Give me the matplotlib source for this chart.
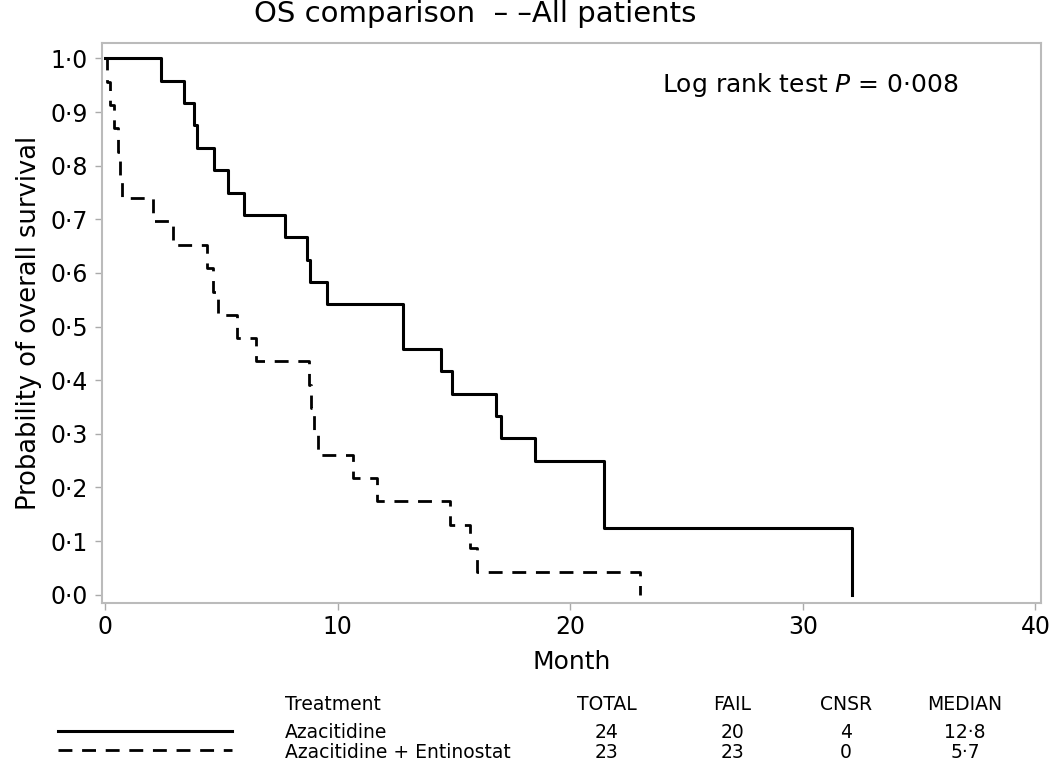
import matplotlib
matplotlib.use('Agg')
import matplotlib.pyplot as plt

plt.rcParams['font.family'] = ['DejaVu Sans']

# Kaplan-Meier steps (month, survival after the drop)
aza_t = [0, 2.4, 3.4, 3.83, 3.96, 4.68, 5.28, 5.98, 7.74, 8.68, 8.82, 9.55, 12.82,
         14.45, 14.94, 16.83, 17.03, 18.48, 21.45, 32.1]
aza_s = [1.0, 0.958, 0.917, 0.875, 0.833, 0.792, 0.75, 0.708, 0.667, 0.625, 0.583,
         0.542, 0.458, 0.417, 0.375, 0.333, 0.292, 0.25, 0.125, 0.0]

ent_t = [0, 0.1, 0.2, 0.4, 0.55, 0.65, 0.75, 2.06, 2.92, 4.38, 4.63, 4.86, 5.68,
         6.48, 8.78, 8.88, 9.0, 9.18, 10.68, 11.68, 14.84, 15.68, 15.98, 23.0]
ent_s = [1.0, 0.957, 0.913, 0.870, 0.826, 0.783, 0.739, 0.696, 0.652, 0.609, 0.565,
         0.522, 0.478, 0.435, 0.391, 0.348, 0.304, 0.261, 0.217, 0.174, 0.130,
         0.087, 0.043, 0.0]

y_ticks = [0.0, 0.1, 0.2, 0.3, 0.4, 0.5, 0.6, 0.7, 0.8, 0.9, 1.0]
y_labels = ['0·0', '0·1', '0·2', '0·3', '0·4', '0·5', '0·6', '0·7', '0·8', '0·9', '1·0']
x_ticks = [0, 10, 20, 30, 40]

table_head = ['Treatment', 'TOTAL', 'FAIL', 'CNSR', 'MEDIAN']
table_rows = [['Azacitidine', '24', '20', '4', '12·8'],
              ['Azacitidine + Entinostat', '23', '23', '0', '5·7']]

dash = (0, (5, 3.5))

fig = plt.figure(figsize=(10.5, 7.62), dpi=100)
ax = fig.add_axes([0.097, 0.209, 0.894, 0.734])

ax.step(aza_t, aza_s, where='post', color='black', lw=2.2)
ax.step(ent_t, ent_s, where='post', color='black', lw=2.0, linestyle=dash)

ax.set_xlim(-0.13, 40.22)
ax.set_ylim(-0.015, 1.028)
ax.set_xticks(x_ticks)
ax.set_yticks(y_ticks)
ax.set_yticklabels(y_labels)
ax.tick_params(labelsize=17, color='#aaaaaa', length=5, width=1)
ax.tick_params(axis='y', pad=5)
for sp in ax.spines.values():
    sp.set_color('#bbbbbb')
    sp.set_linewidth(1.5)

ax.set_xlabel('Month', fontsize=18, labelpad=8)
ax.set_ylabel('Probability of overall survival', fontsize=18.5, labelpad=6)

ax.text(0.597, 0.925, r'Log rank test $\it{P}$ = 0·008', transform=ax.transAxes,
        fontsize=18, va='center', ha='left')

fig.text(0.453, 0.981, 'OS comparison  – –All patients', fontsize=21, ha='center', va='center')

# table under the plot
col_x = [285, 607, 732, 846, 965]
row_y = [705, 733, 753]
for i, txt in enumerate(table_head):
    fig.text(col_x[i] / 1050, 1 - row_y[0] / 762, txt, fontsize=13.5,
             ha='left' if i == 0 else 'center', va='center')
for r, row in enumerate(table_rows):
    for i, txt in enumerate(row):
        fig.text(col_x[i] / 1050, 1 - row_y[r + 1] / 762, txt, fontsize=13.5,
                 ha='left' if i == 0 else 'center', va='center')

fig.add_artist(plt.Line2D([58 / 1050, 232 / 1050], [1 - 731 / 762] * 2,
                          color='black', lw=2.2))
fig.add_artist(plt.Line2D([58 / 1050, 232 / 1050], [1 - 750 / 762] * 2,
                          color='black', lw=2.0, linestyle=dash))

fig.savefig('out.png', dpi=100)
